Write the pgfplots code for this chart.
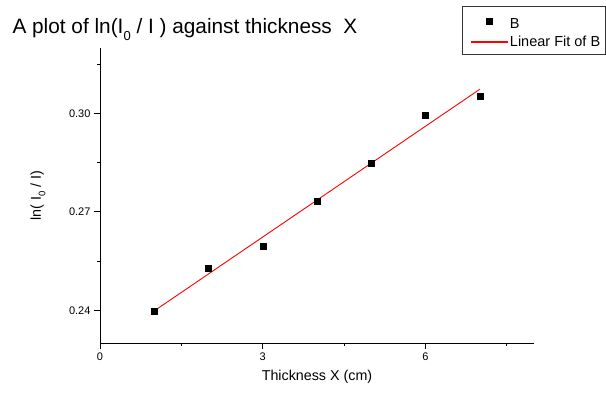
\documentclass[border=0pt]{standalone}
\usepackage{fontspec}
\setmainfont{Liberation Sans}
\usepackage{pgfplots}
\pgfplotsset{compat=1.18}
\pgfplotsset{
  legmark/.style={legend image code/.code={\path (0pt,0pt) (41pt,0pt); \draw[black, mark=square*, mark size=3pt] plot coordinates {(22.5pt,0pt)};}},
  legline/.style={legend image code/.code={\path (0pt,0pt); \fill[fill=red!85!white] (4.5pt,-0.5pt) rectangle (40.5pt,0.5pt);}},
}
\begin{document}
\begin{tikzpicture}
\useasboundingbox (-100pt,-49pt) rectangle (506pt,343pt);
\begin{axis}[
  at={(0pt,0pt)}, anchor=origin,
  scale only axis, width=434pt, height=295pt,
  xmin=0, xmax=8, ymin=0.23, ymax=0.32,
  axis lines=left, axis line style={-, line width=0.9pt},
  tick align=outside, tick style={black, line width=0.9pt},
  major tick length=6pt, minor tick length=3pt,
  xtick={0,3,6}, minor xtick={1.5,4.5,7.5},
  ytick={0.24,0.27,0.30}, minor ytick={0.255,0.285,0.315},
  yticklabel style={/pgf/number format/.cd, fixed, fixed zerofill, precision=2},
  /pgf/number format/assume math mode=true,
  tick label style={font=\fontsize{11}{13}\selectfont},
  xlabel={Thickness X (cm)},
  ylabel={ln( I\raisebox{-4.5pt}{\fontsize{9.5}{11}\selectfont 0} / I)},
  label style={font=\fontsize{14.3}{16}\selectfont},
  xlabel style={at={(axis description cs:0.5,-0.115)}, anchor=center},
  ylabel style={at={(axis description cs:-0.143,0.5)}, anchor=center},
  legend style={at={(rel axis cs:0.834,1.142)}, anchor=north west,
    font=\fontsize{14.5}{16}\selectfont, draw=black!80, line width=1pt,
    inner xsep=4pt, inner ysep=5pt,
    nodes={inner sep=1.5pt}, row sep=3pt},
  legend cell align=left,
  clip=false,
]
\addplot[only marks, mark=square*, mark size=3pt, black, legmark] coordinates {
  (1,0.2396) (2,0.2529) (3,0.2596) (4,0.2732) (5,0.2848) (6,0.2995) (7,0.3053)
};
\addlegendentry{\rule{0pt}{15.5pt}B}
\addplot[red, line width=0.9pt, legline] coordinates {(1,0.2398) (7,0.3074)};
\addlegendentry{Linear Fit of B}
\node[anchor=base west, font=\fontsize{20.8}{24}\selectfont] at (axis cs:0,0.23) [xshift=-91pt, yshift=310pt] {A plot of ln(I\raisebox{-7pt}{\fontsize{13}{15}\selectfont 0} / I ) against thickness\ \ X};
\end{axis}
\end{tikzpicture}
\end{document}
